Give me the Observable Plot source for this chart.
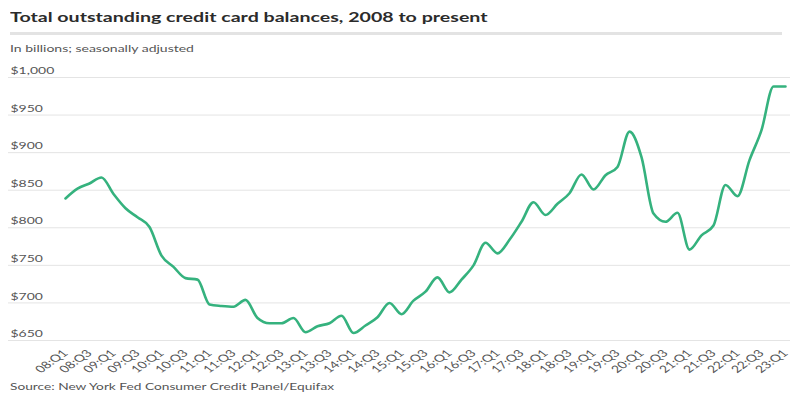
<!DOCTYPE html>
<html><head><meta charset="utf-8">
<script src="https://cdn.jsdelivr.net/npm/d3@7"></script>
<script src="https://cdn.jsdelivr.net/npm/@observablehq/plot@0.6"></script>
<style>
body{margin:0;background:#fff;font-family:Lato,sans-serif;width:792px;height:393px;overflow:hidden;position:relative}
.t{position:absolute;left:10px;white-space:nowrap;line-height:1;transform-origin:0 0;transform:scaleX(1.4)}
#title{top:9.5px;font-size:14px;font-weight:700;color:#2b2b2b}
#rule{position:absolute;left:10px;top:32px;width:772px;height:3px;background:#e3e3e3}
#sub{top:43.4px;font-size:10px;color:#555}
#chart{position:absolute;left:0;top:58px}
#src{top:382px;font-size:9.8px;color:#555}
</style></head><body>
<div id="title" class="t">Total outstanding credit card balances, 2008 to present</div>
<div id="rule"></div>
<div id="sub" class="t">In billions; seasonally adjusted</div>
<div id="chart"></div>
<div id="src" class="t">Source: New York Fed Consumer Credit Panel/Equifax</div>
<script>
const quarters = [
  "08:Q1","08:Q2","08:Q3","08:Q4","09:Q1","09:Q2","09:Q3","09:Q4",
  "10:Q1","10:Q2","10:Q3","10:Q4","11:Q1","11:Q2","11:Q3","11:Q4",
  "12:Q1","12:Q2","12:Q3","12:Q4","13:Q1","13:Q2","13:Q3","13:Q4",
  "14:Q1","14:Q2","14:Q3","14:Q4","15:Q1","15:Q2","15:Q3","15:Q4",
  "16:Q1","16:Q2","16:Q3","16:Q4","17:Q1","17:Q2","17:Q3","17:Q4",
  "18:Q1","18:Q2","18:Q3","18:Q4","19:Q1","19:Q2","19:Q3","19:Q4",
  "20:Q1","20:Q2","20:Q3","20:Q4","21:Q1","21:Q2","21:Q3","21:Q4",
  "22:Q1","22:Q2","22:Q3","22:Q4","23:Q1"
];
const balances = [
  839, 852, 859, 867, 845, 826, 814, 801,
  763, 748, 733, 731, 698, 696, 695, 704,
  680, 673, 673, 680, 661, 669, 673, 683,
  660, 670, 681, 700, 685, 703, 715, 734,
  714, 731, 750, 780, 766, 784, 808, 834,
  817, 832, 846, 871, 851, 870, 881, 928,
  894, 819, 808, 820, 771, 790, 803, 857,
  842, 890, 930, 988, 988
];
const xTicks = quarters.filter((d, i) => i % 2 === 0);
const yTicks = [650, 700, 750, 800, 850, 900, 950, 1000];
const yTickLabels = ["$650", "$700", "$750", "$800", "$850", "$900", "$950", "$1,000"];

const data = quarters.map((q, i) => ({q, v: balances[i]}));
const yLab = yTicks.map((v, i) => ({v, t: yTickLabels[i]}));

const chart = Plot.plot({
  width: 792,
  height: 318,
  marginTop: 19,
  marginBottom: 36,
  marginLeft: 8,
  marginRight: 2,
  style: {fontFamily: "Lato, sans-serif", fontSize: "10px", color: "#555", background: "transparent"},
  x: {type: "point", domain: quarters, padding: 0, insetLeft: 57, insetRight: 5},
  y: {domain: [650, 1000], axis: null},
  marks: [
    Plot.ruleY(yTicks, {stroke: "#e4e4e4", strokeWidth: 1}),
    Plot.text(yLab, {y: "v", text: "t", frameAnchor: "left", textAnchor: "start", dx: 2, dy: -6.5, fill: "#555", fontSize: 10}),
    Plot.axisX({ticks: xTicks, tickSize: 0, tickRotate: -45, tickPadding: 11, label: null, fill: "#555", fontSize: 10}),
    Plot.line(data, {x: "q", y: "v", stroke: "#35b27e", strokeWidth: 2.6, curve: "monotone-x"})
  ]
});
// the reference's lettering is horizontally stretched; widen each label about its anchor
const S = 1.4;
chart.querySelectorAll("text").forEach(t => {
  const tr = t.getAttribute("transform");
  if (tr && /translate\(/.test(tr)) {
    t.setAttribute("transform", tr.replace(/(translate\([^)]*\))/, `$1 scale(${S},1)`));
  } else {
    const x = t.getAttribute("x") || 0, y = t.getAttribute("y") || 0;
    t.removeAttribute("x"); t.removeAttribute("y");
    t.setAttribute("transform", `translate(${x},${y}) scale(${S},1)` + (tr ? " " + tr : ""));
  }
});
document.getElementById("chart").appendChild(chart);
</script>
</body></html>
